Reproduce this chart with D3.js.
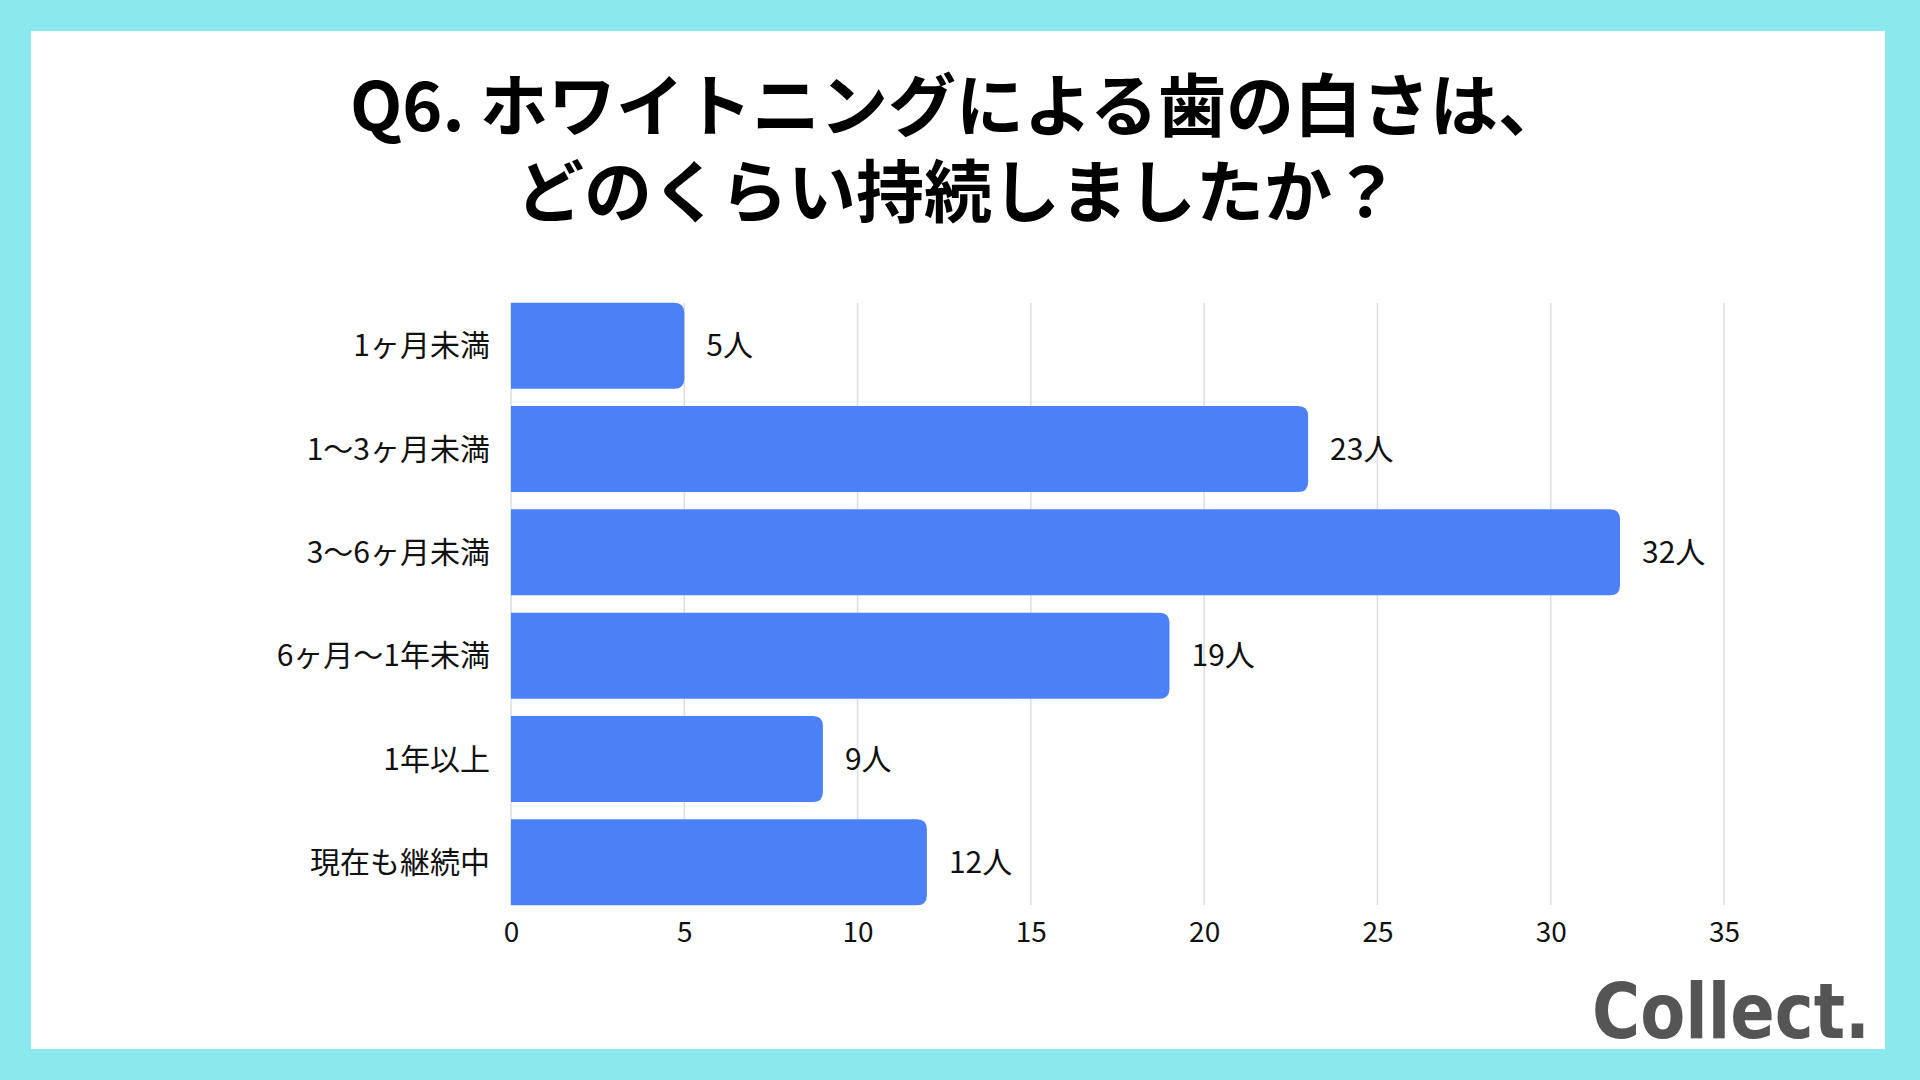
<!DOCTYPE html>
<html>
<head>
<meta charset="utf-8">
<script src="https://cdn.jsdelivr.net/npm/d3@7"></script>
<style>
  html, body { margin: 0; padding: 0; background: #8ae9ec; }
  svg { display: block; }
</style>
</head>
<body>
<svg id="chart" width="1920" height="1080"></svg>
<script>
const categories = ["1ヶ月未満", "1〜3ヶ月未満", "3〜6ヶ月未満", "6ヶ月〜1年未満", "1年以上", "現在も継続中"]
const values = [5, 23, 32, 19, 9, 12]
const tickValues = [0, 5, 10, 15, 20, 25, 30, 35]
const titleLines = ["Q6. ホワイトニングによる歯の白さは、", "どのくらい持続しましたか？"]

const font = "'Noto Sans CJK JP', 'Noto Sans', sans-serif"
const svg = d3.select("#chart")

// background panel
svg.append("rect").attr("width", 1920).attr("height", 1080).attr("fill", "#8ae9ec")
svg.append("rect")
    .attr("x", 31).attr("y", 31)
    .attr("width", 1854).attr("height", 1018)
    .attr("fill", "#ffffff")

// title, one text element with a tspan per line
svg.append("text")
    .attr("text-anchor", "middle")
    .attr("font-family", font)
    .attr("font-weight", 700)
    .attr("font-size", 68)
    .attr("fill", "#000")
    .selectAll("tspan")
    .data(titleLines)
    .join("tspan")
    .attr("x", 958)
    .attr("y", (d, i) => 131 + i * 86)
    .text(d => d)

const x = d3.scaleLinear().domain([0, 35]).range([511, 1724])
const y = d3.scaleBand()
    .domain(categories)
    .range([294, 914])
    .paddingInner(0.168)
    .paddingOuter(0.084)

// gridlines
svg.append("g").selectAll("line")
    .data(tickValues)
    .join("line")
    .attr("x1", d => x(d)).attr("x2", d => x(d))
    .attr("y1", y(categories[0])).attr("y2", y(categories[categories.length - 1]) + y.bandwidth())
    .attr("stroke", "#dddddd")
    .attr("stroke-width", 1.5)

// bars with rounded right end
function barPath(x0, x1, y0, h, r) {
    const rr = Math.min(r, (x1 - x0) / 2)
    return `M${x0},${y0}H${x1 - rr}Q${x1},${y0} ${x1},${y0 + rr}V${y0 + h - rr}Q${x1},${y0 + h} ${x1 - rr},${y0 + h}H${x0}Z`
}

const rows = categories.map((c, i) => ({ cat: c, value: values[i] }))

svg.append("g").selectAll("path")
    .data(rows)
    .join("path")
    .attr("d", d => barPath(x(0), x(d.value), y(d.cat), y.bandwidth(), 10))
    .attr("fill", "#4b80f6")

// value labels
svg.append("g").selectAll("text")
    .data(rows)
    .join("text")
    .attr("x", d => x(d.value) + 22)
    .attr("y", d => y(d.cat) + y.bandwidth() / 2)
    .attr("dy", "0.36em")
    .attr("font-family", font)
    .attr("font-size", 30)
    .attr("fill", "#111")
    .text(d => d.value + "人")

// category axis
const yAxis = svg.append("g")
    .attr("transform", `translate(${x(0)},0)`)
    .call(d3.axisLeft(y).tickSize(0).tickPadding(21))
yAxis.select(".domain").remove()
yAxis.selectAll("text")
    .attr("font-family", font)
    .attr("font-size", 30)
    .attr("fill", "#111")
    .attr("dy", "0.36em")

// value axis
const xAxis = svg.append("g")
    .attr("transform", `translate(0,${y(categories[categories.length - 1]) + y.bandwidth()})`)
    .call(d3.axisBottom(x).tickValues(tickValues).tickSize(0).tickPadding(17))
xAxis.select(".domain").remove()
xAxis.selectAll("text")
    .attr("font-family", font)
    .attr("font-size", 28)
    .attr("fill", "#111")

// logo
svg.append("text")
    .attr("x", 1592).attr("y", 1038)
    .attr("font-family", "'DejaVu Sans', sans-serif")
    .attr("font-weight", 700)
    .attr("font-size", 76)
    .attr("textLength", 278)
    .attr("lengthAdjust", "spacingAndGlyphs")
    .attr("fill", "#555555")
    .text("Collect.")
</script>
</body>
</html>
